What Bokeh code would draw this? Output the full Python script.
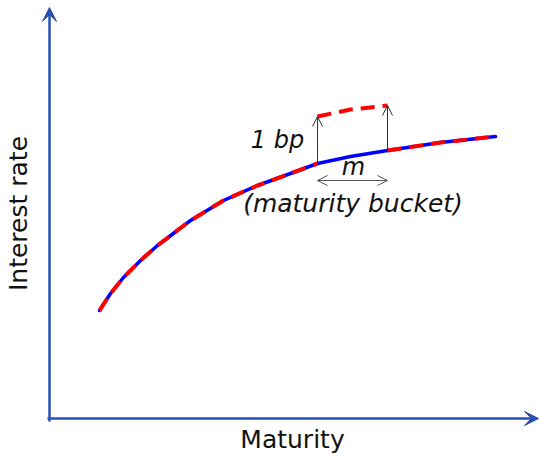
from bokeh.plotting import figure
from bokeh.models import Range1d, Arrow, VeeHead, OpenHead, Label
from bokeh.embed import file_html
from bokeh.resources import INLINE

# Data (arbitrary units): maturity vs interest rate
maturity = [5.0, 6.1, 7.4, 9.1, 10.8, 14.1, 17.4, 20.8, 24.1, 26.8, 30.1, 33.8, 39.1, 44.6]
rate = [10.8, 12.5, 14.1, 15.8, 17.3, 19.8, 21.8, 23.3, 24.5, 25.5, 26.2, 26.8, 27.6, 28.2]
bucket_start = 26.8
bucket_end = 33.8
bumped_maturity = [26.8, 30.1, 33.8]
bumped_rate = [30.2, 30.9, 31.3]
base_at_start = 25.5
base_at_end = 26.8
m_arrow_rate = 23.8

AX_BLUE = "#2a50b8"
FONT = "DejaVu Sans"

p = figure(width=539, height=459, x_range=Range1d(-4.9, 49.0), y_range=Range1d(-4.1, 41.8),
           output_backend="svg", toolbar_location=None, min_border=0)
p.axis.visible = False
p.grid.visible = False
p.outline_line_color = None
p.background_fill_color = "white"
p.border_fill_color = "white"

# axes arrows
p.add_layout(Arrow(end=VeeHead(size=14, fill_color=AX_BLUE, line_color=AX_BLUE, line_width=1),
                   x_start=0, y_start=-0.3, x_end=0, y_end=41.1,
                   line_color=AX_BLUE, line_width=2.5))
p.add_layout(Arrow(end=VeeHead(size=14, fill_color=AX_BLUE, line_color=AX_BLUE, line_width=1),
                   x_start=-0.2, y_start=0, x_end=48.9, y_end=0,
                   line_color=AX_BLUE, line_width=2.5))

# base curve (blue)
p.line(maturity, rate, line_color="#0000ff", line_width=3.5, line_cap="round", line_join="round")

# shifted curve (red dashed)
i0 = maturity.index(bucket_start)
i1 = maturity.index(bucket_end)
p.line(maturity[:i0 + 1], rate[:i0 + 1], line_color="#ff0000", line_width=4, line_dash="14 8")
p.line(maturity[i1:], rate[i1:], line_color="#ff0000", line_width=4, line_dash="14 8")
p.line(bumped_maturity, bumped_rate, line_color="#ff0000", line_width=4, line_dash="14 8")

# 1bp arrows
for xm, yb, yt in [(bucket_start, base_at_start, bumped_rate[0]), (bucket_end, base_at_end, bumped_rate[-1])]:
    p.add_layout(Arrow(end=OpenHead(size=10, line_color="#333333", line_width=1),
                       x_start=xm, y_start=yb, x_end=xm, y_end=yt,
                       line_color="#333333", line_width=1))

# maturity bucket double arrow
p.add_layout(Arrow(start=OpenHead(size=10, line_color="#555555", line_width=1),
                   end=OpenHead(size=10, line_color="#555555", line_width=1),
                   x_start=bucket_start, y_start=m_arrow_rate, x_end=bucket_end, y_end=m_arrow_rate,
                   line_color="#555555", line_width=1))

def lab(x, y, t, style="normal", align="center", angle=0.0, baseline="alphabetic", size="24px"):
    p.add_layout(Label(x=x, y=y, text=t, text_font=FONT, text_font_size=size,
                       text_font_style=style, text_align=align, text_baseline=baseline,
                       angle=angle, text_color="#111111"))

lab(24.3, -2.1, "Maturity", size="25px")
lab(-3.1, 20.5, "Interest rate", angle=1.5708, size="25px")
lab(22.8, 27.9, "1 bp", style="italic")
lab(30.4, 25.2, "m", style="italic")
lab(30.35, 21.5, "(maturity bucket)", style="italic", size="25px")

open("out.html", "w").write(file_html(p, INLINE))
